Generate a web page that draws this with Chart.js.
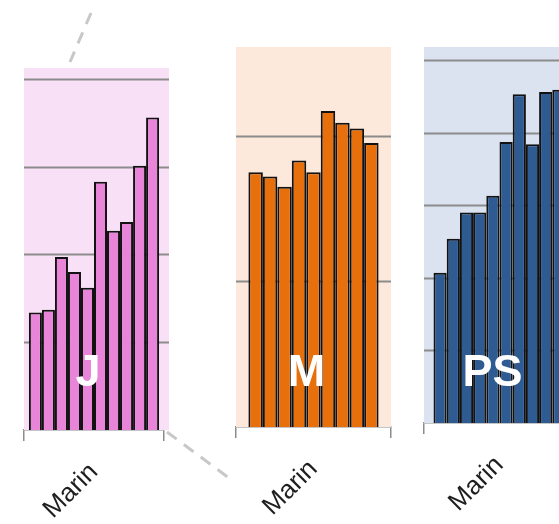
<!DOCTYPE html>
<html>
<head>
<meta charset="utf-8">
<script src="https://cdn.jsdelivr.net/npm/chart.js@4.4.1/dist/chart.umd.min.js"></script>
<style>
  html, body { margin:0; padding:0; background:#fff; overflow:hidden; }
  #wrap { position:relative; width:559px; height:524px; overflow:hidden; }
  .panel { position:absolute; top:0; }
  #overlay { position:absolute; left:0; top:0; pointer-events:none; }
</style>
</head>
<body>
<div id="wrap">
  <canvas id="cJ" class="panel" width="200" height="524" style="left:0px"></canvas>
  <canvas id="cM" class="panel" width="200" height="524" style="left:200px"></canvas>
  <canvas id="cPS" class="panel" width="200" height="524" style="left:400px"></canvas>
  <canvas id="overlay" width="559" height="524"></canvas>
</div>
<script>
// data (one gridline = 1 unit)
const categories = ['Marin'];
const jValues  = [1.34, 1.37, 1.97, 1.80, 1.62, 2.83, 2.27, 2.37, 3.01, 3.56];
const mValues  = [1.75, 1.72, 1.65, 1.83, 1.75, 2.17, 2.09, 2.05, 1.95];
const psValues = [2.07, 2.54, 2.90, 2.90, 3.13, 3.87, 4.53, 3.84, 4.56, 4.59];
const jGrid  = [1, 2, 3, 4];
const mGrid  = [1, 2];
const psGrid = [1, 2, 3, 4, 5];

// panel background, gridlines and the big white letter
const panelPlugin = {
  id: 'panel',
  beforeDatasetsDraw(chart, args, opts) {
    const ctx = chart.ctx, a = chart.chartArea, y = chart.scales.y;
    const right = a.right + (opts.extend || 0);
    ctx.save();
    ctx.fillStyle = opts.bg;
    ctx.fillRect(a.left, a.top, right - a.left, a.bottom - a.top);
    ctx.strokeStyle = '#8c8c8c';
    ctx.lineWidth = 2;
    opts.grid.forEach(v => {
      const py = Math.round(y.getPixelForValue(v)) + 0.5;
      ctx.beginPath();
      ctx.moveTo(a.left, py);
      ctx.lineTo(right, py);
      ctx.stroke();
    });
    ctx.restore();
  },
  afterDatasetsDraw(chart, args, opts) {
    const ctx = chart.ctx;
    ctx.save();
    ctx.fillStyle = '#fff';
    ctx.font = 'bold 45px "Liberation Sans", Arial, sans-serif';
    ctx.textAlign = 'center';
    ctx.textBaseline = 'alphabetic';
    ctx.fillText(opts.letter, chart.scales.x.getPixelForValue(0) + (opts.dx || 0), 386);
    ctx.restore();
  }
};

function makePanel(id, values, grid, max, fill, bg, letter, pad, axisH, catPct, extend, dx) {
  const datasets = values.map(v => ({
    data: [v],
    backgroundColor: fill,
    borderColor: '#121212',
    borderWidth: 2,
    barPercentage: 1,
    categoryPercentage: catPct
  }));
  return new Chart(document.getElementById(id), {
    type: 'bar',
    data: { labels: categories, datasets: datasets },
    plugins: [panelPlugin],
    options: {
      responsive: false,
      animation: false,
      layout: { padding: pad, autoPadding: false },
      plugins: {
        legend: { display: false },
        tooltip: { enabled: false },
        panel: { bg: bg, grid: grid, letter: letter, extend: extend, dx: dx }
      },
      scales: {
        y: { display: false, min: 0, max: max },
        x: {
          grid: { offset: true, drawOnChartArea: false, drawTicks: true, tickLength: 11, color: '#8c8c8c', lineWidth: 1.5 },
          border: { display: true, color: '#8c8c8c', width: 1.5 },
          ticks: {
            color: '#1e1e1e',
            font: { family: '"Liberation Sans", Arial, sans-serif', size: 26 },
            minRotation: 45, maxRotation: 45, padding: 16
          },
          afterFit: s => { s.height = axisH; s.paddingLeft = 0; s.paddingRight = 0; }
        }
      }
    }
  });
}

makePanel('cJ', jValues, jGrid, 4.125, '#e985d9', '#f8e0f6', 'J',
  { left: 24, right: 36, top: 68, bottom: 0 }, 94, 0.93, 5, -6);
makePanel('cM', mValues, mGrid, 2.61, '#e8700c', '#fde9dc', 'M',
  { left: 36, right: 9, top: 47, bottom: 0 }, 97, 0.84, 0, -7);
makePanel('cPS', psValues, psGrid, 5.18, '#2f5b93', '#dbe3f0', 'PS',
  { left: 24, right: 25, top: 47, bottom: 0 }, 101, 0.874, 0, -7);

// grey dashed connector lines
const oc = document.getElementById('overlay').getContext('2d');
oc.strokeStyle = '#c8c8c8';
oc.lineWidth = 3;
oc.setLineDash([12, 9]);
oc.beginPath();
oc.moveTo(91, 13);
oc.lineTo(70, 62);
oc.stroke();
oc.beginPath();
oc.moveTo(167, 432);
oc.lineTo(233, 481);
oc.stroke();
</script>
</body>
</html>
